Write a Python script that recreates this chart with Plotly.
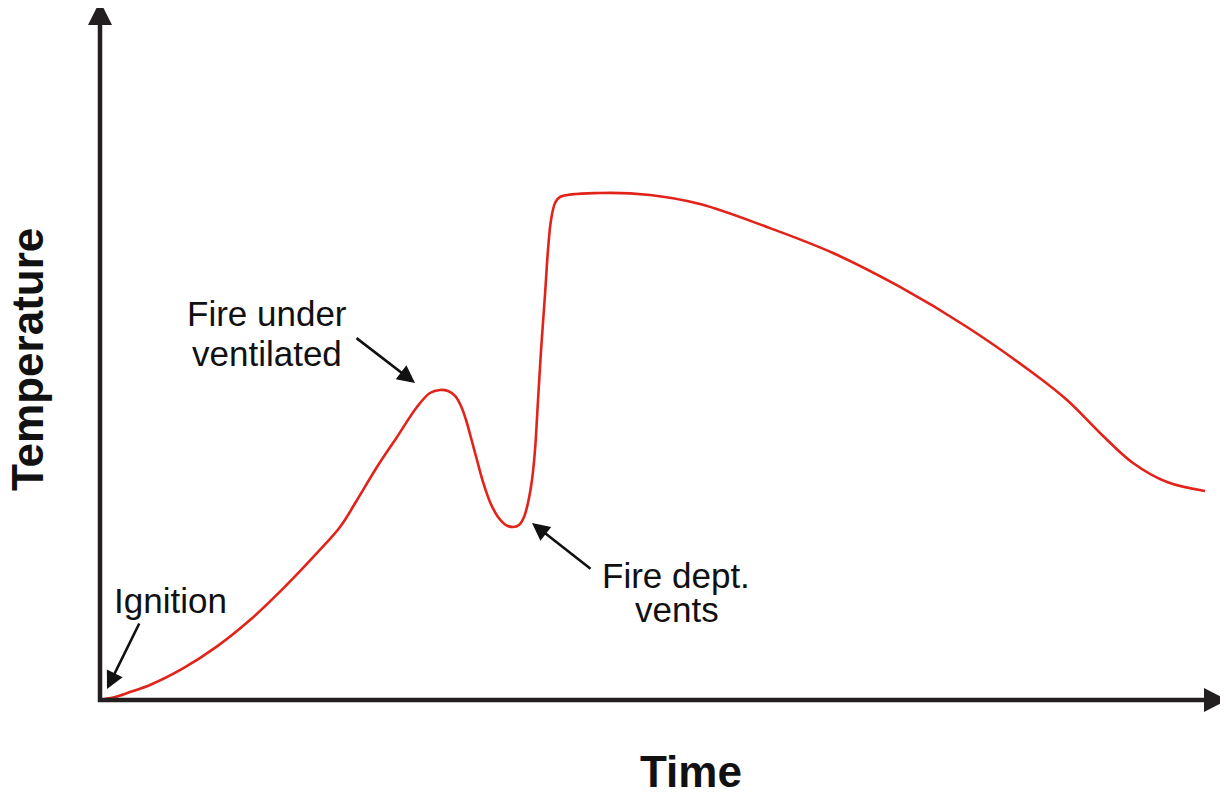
import plotly.graph_objects as go

# ---- data (arbitrary units) ----
time = [0.0, 1.34, 2.68, 4.46, 7.41, 10.45, 13.39, 16.34, 19.38, 21.43, 22.95, 24.73, 26.52,
        28.30, 29.46, 30.36, 31.07, 31.70, 32.23, 32.68, 33.13, 33.66, 34.20, 34.82, 35.54,
        36.25, 36.88, 37.41, 37.86, 38.21, 38.57, 38.84, 39.11, 39.38, 39.73, 40.00, 40.27,
        40.63, 41.07, 44.64, 49.11, 53.57, 59.55, 65.45, 71.43, 77.41, 83.30, 86.34, 89.29,
        92.23, 95.27, 98.66]
temperature = [0.0, 0.43, 1.16, 2.17, 4.57, 7.77, 11.59, 16.14, 21.32, 25.07, 28.99, 33.77, 38.12,
               42.46, 44.49, 44.93, 44.78, 44.06, 42.61, 40.58, 37.97, 34.78, 31.59, 28.70, 26.52,
               25.36, 25.07, 25.36, 26.52, 28.55, 31.88, 36.23, 43.48, 50.72, 58.70, 65.22, 69.57,
               72.03, 72.90, 73.48, 73.19, 71.88, 68.55, 64.78, 59.86, 54.06, 47.39, 43.48, 38.70,
               34.35, 31.59, 30.29]

x_title = "Time"
y_title = "Temperature"
labels = ["Ignition", "Fire under", "ventilated", "Fire dept.", "vents"]

# page has an 8px body margin; figure is drawn 8px in from the window edge
OFF = 8
W, H = 1228 - OFF, 803 - OFF
PL, PR, PT, PB = 100, 1220, 10, 700          # plot area in window pixels
L, T = PL - OFF, PT - OFF
R, B = W - (PR - OFF), H - (PB - OFF)
PW, PH = PR - PL, PB - PT


def px(x):
    return (x - PL) / PW


def py(y):
    return (PB - y) / PH


AX = "#231f20"
fig = go.Figure()
fig.add_trace(go.Scatter(x=time, y=temperature, mode="lines",
                         line=dict(color="#e2231a", width=2.6, shape="spline", smoothing=1.0),
                         hoverinfo="skip", showlegend=False))

shapes = [
    dict(type="line", xref="paper", yref="paper", x0=px(100), y0=py(702), x1=px(100), y1=py(20),
         line=dict(color=AX, width=4.5)),
    dict(type="path", xref="paper", yref="paper",
         path=f"M {px(100)} {py(1)} L {px(88)} {py(25)} L {px(112)} {py(25)} Z",
         fillcolor=AX, line=dict(width=0)),
    dict(type="line", xref="paper", yref="paper", x0=px(98), y0=py(700), x1=px(1208), y1=py(700),
         line=dict(color=AX, width=4.5)),
    dict(type="path", xref="paper", yref="paper",
         path=f"M {px(1227)} {py(700)} L {px(1204)} {py(688)} L {px(1204)} {py(712)} Z",
         fillcolor=AX, line=dict(width=0)),
]

FONT = "Liberation Sans, Arial, Helvetica, sans-serif"
ann = []


def text(t, x, y, size=35, bold=False, angle=0):
    ann.append(dict(text=f"<b>{t}</b>" if bold else t, xref="paper", yref="paper",
                    x=px(x), y=py(y), xanchor="center", yanchor="middle", showarrow=False,
                    textangle=angle, font=dict(family=FONT, size=size, color="#111111")))


def arrow(x0, y0, x1, y1):
    ann.append(dict(text="", xref="paper", yref="paper", x=px(x1), y=py(y1),
                    ax=x0 - x1, ay=y0 - y1, axref="pixel", ayref="pixel",
                    showarrow=True, arrowhead=2, arrowsize=1.35, arrowwidth=2.6,
                    arrowcolor="#111111"))


text(labels[0], 170, 600)
text(labels[1], 267, 313)
text(labels[2], 267, 353)
text(labels[3], 676, 575)
text(labels[4], 677, 609)
text(y_title, 27, 360, size=44, bold=True, angle=-90)
text(x_title, 691, 771, size=44, bold=True)

arrow(140, 622, 107, 689)
arrow(355, 337, 415, 383)
arrow(592, 570, 532, 523)

fig.update_layout(
    width=W, height=H, margin=dict(l=L, r=R, t=T, b=B),
    paper_bgcolor="white", plot_bgcolor="white",
    xaxis=dict(range=[0, 100], visible=False, fixedrange=True),
    yaxis=dict(range=[0, 100], visible=False, fixedrange=True),
    shapes=shapes, annotations=ann,
)
fig.write_html("out.html")
